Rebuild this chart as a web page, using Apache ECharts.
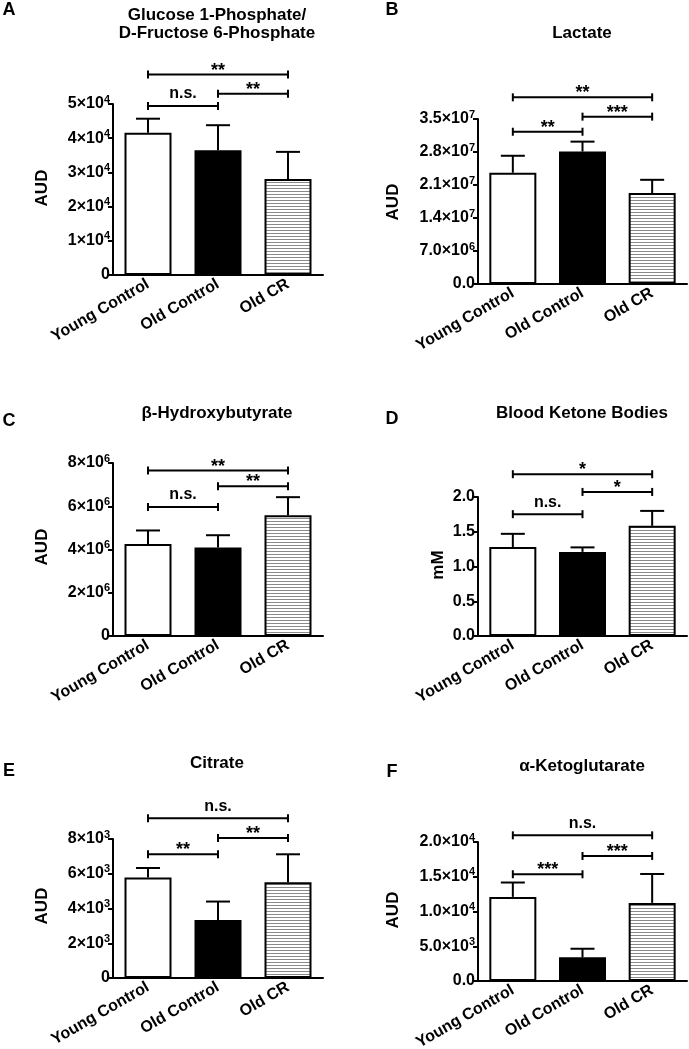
<!DOCTYPE html>
<html><head><meta charset="utf-8">
<script src="https://cdn.jsdelivr.net/npm/echarts@6/dist/echarts.min.js"></script>
<style>html,body{margin:0;padding:0;background:#fff}#c{width:689px;height:1049px}</style>
</head><body><div id="c"></div>
<script>
// ---------- DATA ----------
const categories = ['Young Control', 'Old Control', 'Old CR'];

const titleA = 'Glucose 1-Phosphate/\nD-Fructose 6-Phosphate';
const meanA = [41600, 36500, 28100];
const semA = [4100, 7300, 7900];
const ticksA = ['0', '1×10^4', '2×10^4', '3×10^4', '4×10^4', '5×10^4'];
const sigA = [[0, 1, 49400, 'n.s.'], [1, 2, 53000, '**'], [0, 2, 58600, '**']];

const titleB = 'Lactate';
const meanB = [23600000, 28100000, 19300000];
const semB = [3600000, 2100000, 2800000];
const ticksB = ['0.0', '7.0×10^6', '1.4×10^7', '2.1×10^7', '2.8×10^7', '3.5×10^7'];
const sigB = [[0, 1, 32300000, '**'], [1, 2, 35500000, '***'], [0, 2, 39600000, '**']];

const titleC = 'β-Hydroxybutyrate';
const meanC = [4250000, 4090000, 5585000];
const semC = [630000, 570000, 835000];
const ticksC = ['0', '2×10^6', '4×10^6', '6×10^6', '8×10^6'];
const sigC = [[0, 1, 5970000, 'n.s.'], [1, 2, 6920000, '**'], [0, 2, 7650000, '**']];

const titleD = 'Blood Ketone Bodies';
const meanD = [1.28, 1.21, 1.585];
const semD = [0.19, 0.065, 0.215];
const ticksD = ['0.0', '0.5', '1.0', '1.5', '2.0'];
const sigD = [[0, 1, 1.753, 'n.s.'], [1, 2, 2.073, '*'], [0, 2, 2.328, '*']];

const titleE = 'Citrate';
const meanE = [5780, 3340, 5510];
const semE = [550, 1060, 1610];
const ticksE = ['0', '2×10^3', '4×10^3', '6×10^3', '8×10^3'];
const sigE = [[0, 1, 7120, '**'], [1, 2, 8060, '**'], [0, 2, 9190, 'n.s.']];

const titleF = 'α-Ketoglutarate';
const meanF = [12100, 3400, 11240];
const semF = [2070, 1240, 4160];
const ticksF = ['0.0', '5.0×10^3', '1.0×10^4', '1.5×10^4', '2.0×10^4'];
const sigF = [[0, 1, 15360, '***'], [1, 2, 17990, '***'], [0, 2, 20960, 'n.s.']];

// ---------- LAYOUT / STYLE ----------
const FONT = '"Liberation Sans", Arial, Helvetica, sans-serif';

const hc = document.createElement('canvas');
hc.width = 6; hc.height = 3;
const hg = hc.getContext('2d');
hg.fillStyle = '#ffffff'; hg.fillRect(0, 0, 6, 3);
hg.fillStyle = '#8a8a8a'; hg.fillRect(0, 2, 6, 1);
const fills = ['#ffffff', '#000000', { image: hc, repeat: 'repeat' }];

const panels = [
  { letter: 'A', title: titleA, yName: 'AUD', mean: meanA, sem: semA, ticks: ticksA, sig: sigA, max: 50000, interval: 10000,
    grid: { left: 113, top: 104, width: 210, height: 171 }, titleXY: [217, 24], letterXY: [9, 10], yNameXY: [42, 188] },
  { letter: 'B', title: titleB, yName: 'AUD', mean: meanB, sem: semB, ticks: ticksB, sig: sigB, max: 35000000, interval: 7000000,
    grid: { left: 478, top: 119, width: 209, height: 165 }, titleXY: [582, 33], letterXY: [392, 10.5], yNameXY: [393, 202] },
  { letter: 'C', title: titleC, yName: 'AUD', mean: meanC, sem: semC, ticks: ticksC, sig: sigC, max: 8000000, interval: 2000000,
    grid: { left: 113, top: 463, width: 210, height: 173 }, titleXY: [217, 413], letterXY: [9, 421], yNameXY: [42, 547] },
  { letter: 'D', title: titleD, yName: 'mM', mean: meanD, sem: semD, ticks: ticksD, sig: sigD, max: 2, interval: 0.5,
    grid: { left: 478, top: 497, width: 209, height: 139 }, titleXY: [582, 413], letterXY: [392, 419], yNameXY: [438, 565] },
  { letter: 'E', title: titleE, yName: 'AUD', mean: meanE, sem: semE, ticks: ticksE, sig: sigE, max: 8000, interval: 2000,
    grid: { left: 113, top: 839, width: 210, height: 139 }, titleXY: [217, 763], letterXY: [9, 771.5], yNameXY: [42, 906] },
  { letter: 'F', title: titleF, yName: 'AUD', mean: meanF, sem: semF, ticks: ticksF, sig: sigF, max: 20000, interval: 5000,
    grid: { left: 478, top: 842, width: 209, height: 139 }, titleXY: [582, 766], letterXY: [392, 771.7], yNameXY: [393, 910] }
];

function richLabel(s) {
  const p = s.split('^');
  return p.length > 1 ? '{b|' + p[0] + '}{s|' + p[1] + '}' : '{b|' + p[0] + '}';
}

const grids = [], xAxes = [], yAxes = [], series = [], graphics = [];

panels.forEach((P, i) => {
  grids.push(Object.assign({ containLabel: false, outerBoundsMode: 'none' }, P.grid));
  xAxes.push({
    type: 'category', gridIndex: i, data: categories,
    axisLine: { lineStyle: { color: '#000', width: 2 } },
    axisTick: { alignWithLabel: true, length: 5, lineStyle: { color: '#000', width: 2 } },
    axisLabel: { rotate: 30, interval: 0, margin: 8, fontSize: 16, fontWeight: 'bold', fontFamily: FONT, color: '#000' },
    splitLine: { show: false }
  });
  yAxes.push({
    type: 'value', gridIndex: i, min: 0, max: P.max, interval: P.interval,
    axisLine: { show: true, lineStyle: { color: '#000', width: 2 } },
    axisTick: { show: true, length: 5, lineStyle: { color: '#000', width: 2 } },
    splitLine: { show: false },
    axisLabel: {
      margin: 3,
      formatter: (v) => richLabel(P.ticks[Math.round(v / P.interval)] || ''),
      rich: {
        b: { fontSize: 16, fontWeight: 'bold', fontFamily: FONT, color: '#000' },
        s: { fontSize: 11, fontWeight: 'bold', fontFamily: FONT, color: '#000', padding: [0, 0, 9, 0] }
      }
    }
  });
  series.push({
    type: 'bar', xAxisIndex: i, yAxisIndex: i, barWidth: 47, z: 2,
    data: P.mean.map((v, k) => ({ value: v, itemStyle: { color: fills[k], borderColor: '#000', borderWidth: 2 } })),
    emphasis: { disabled: true }
  });
  series.push({
    type: 'custom', xAxisIndex: i, yAxisIndex: i, clip: false, z: 3,
    data: P.mean.map((m, k) => [k, m, P.sem[k]]),
    encode: { x: 0, y: 1 },
    renderItem: (params, api) => {
      const k = api.value(0), m = api.value(1), e = api.value(2);
      const p0 = api.coord([k, m]), p1 = api.coord([k, m + e]);
      return { type: 'group', children: [
        { type: 'line', shape: { x1: p0[0], y1: p0[1], x2: p1[0], y2: p1[1] }, style: { stroke: '#000', lineWidth: 2 } },
        { type: 'line', shape: { x1: p1[0] - 12, y1: p1[1], x2: p1[0] + 12, y2: p1[1] }, style: { stroke: '#000', lineWidth: 2 } }
      ] };
    }
  });
  series.push({
    type: 'custom', xAxisIndex: i, yAxisIndex: i, clip: false, z: 3,
    data: P.sig.map(s => [s[0], s[1], s[2]]),
    encode: { x: [0, 1], y: 2 },
    renderItem: (params, api) => {
      const a = api.coord([api.value(0), api.value(2)]);
      const b = api.coord([api.value(1), api.value(2)]);
      const lab = P.sig[params.dataIndex][3];
      const star = lab.indexOf('*') >= 0;
      return { type: 'group', children: [
        { type: 'line', shape: { x1: a[0], y1: a[1], x2: b[0], y2: b[1] }, style: { stroke: '#000', lineWidth: 2 } },
        { type: 'line', shape: { x1: a[0], y1: a[1] - 4, x2: a[0], y2: a[1] + 4 }, style: { stroke: '#000', lineWidth: 2 } },
        { type: 'line', shape: { x1: b[0], y1: b[1] - 4, x2: b[0], y2: b[1] + 4 }, style: { stroke: '#000', lineWidth: 2 } },
        { type: 'text', x: (a[0] + b[0]) / 2, y: a[1] - (star ? 4 : 12),
          style: { text: lab, align: 'center', verticalAlign: 'middle', fontSize: star ? 18 : 16, fontWeight: 'bold', fontFamily: FONT, fill: '#000' } }
      ] };
    }
  });
  graphics.push({ type: 'text', x: P.titleXY[0], y: P.titleXY[1],
    style: { text: P.title, align: 'center', verticalAlign: 'middle', fontSize: 17, lineHeight: 18, fontWeight: 'bold', fontFamily: FONT, fill: '#000' } });
  graphics.push({ type: 'text', x: P.letterXY[0], y: P.letterXY[1],
    style: { text: P.letter, align: 'center', verticalAlign: 'middle', fontSize: 18, fontWeight: 'bold', fontFamily: FONT, fill: '#000' } });
  graphics.push({ type: 'text', x: P.yNameXY[0], y: P.yNameXY[1], rotation: Math.PI / 2,
    style: { text: P.yName, align: 'center', verticalAlign: 'middle', fontSize: 17, fontWeight: 'bold', fontFamily: FONT, fill: '#000' } });
});

const chart = echarts.init(document.getElementById('c'), null, { renderer: 'canvas' });
chart.setOption({
  backgroundColor: '#ffffff',
  animation: false,
  grid: grids, xAxis: xAxes, yAxis: yAxes, series: series, graphic: graphics
});
</script></body></html>
